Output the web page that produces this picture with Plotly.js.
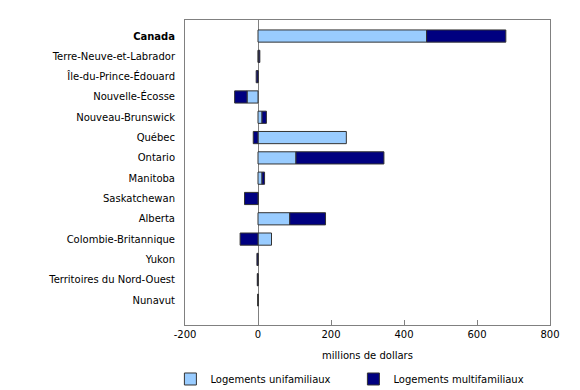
<!DOCTYPE html>
<html><head><meta charset="utf-8">
<script src="https://cdn.plot.ly/plotly-3.0.1.min.js"></script>
<style>html,body{margin:0;padding:0;background:#fff}#c{width:580px;height:390px}</style>
</head><body><div id="c"></div>
<script>
var provinces = ["Canada","Terre-Neuve-et-Labrador","Île-du-Prince-Édouard","Nouvelle-Écosse","Nouveau-Brunswick","Québec","Ontario","Manitoba","Saskatchewan","Alberta","Colombie-Britannique","Yukon","Territoires du Nord-Ouest","Nunavut"];
var provinceLabels = ["<b>Canada</b>","Terre-Neuve-et-Labrador","Île-du-Prince-Édouard","Nouvelle-Écosse","Nouveau-Brunswick","Québec","Ontario","Manitoba","Saskatchewan","Alberta","Colombie-Britannique","Yukon","Territoires du Nord-Ouest","Nunavut"];
var unifamiliaux = [462, 1, 0, -30, 11, 242, 104, 11, 0, 87, 37, 0, 0, 0];
var multifamiliaux = [217, 4, -5, -34, 12, -13, 241, 7, -37, 98, -49, -3, -2, 0];
var xTicks = [-200, 0, 200, 400, 600, 800];
var idx = provinces.map(function(_, i){ return i; });

var line = {color: '#333333', width: 1};
var data = [
  {type:'bar', orientation:'h', name:'Logements unifamiliaux', y: idx, x: unifamiliaux,
   marker:{color:'#99CCFF', line: line}, hoverinfo:'x'},
  {type:'bar', orientation:'h', name:'Logements multifamiliaux', y: idx, x: multifamiliaux,
   marker:{color:'#000080', line: line}, hoverinfo:'x'}
];
var layout = {
  width:580, height:390,
  margin:{l:185, r:30, t:20, b:65, autoexpand:false},
  barmode:'relative', bargap:0.4,
  font:{family:'DejaVu Sans, Verdana, sans-serif', size:10, color:'#000'},
  paper_bgcolor:'#fff', plot_bgcolor:'#fff',
  showlegend:true,
  legend:{orientation:'h', x:-0.04, xanchor:'left', y:-0.177, yanchor:'middle',
          entrywidth:138, font:{size:10}, traceorder:'normal', bgcolor:'rgba(0,0,0,0)'},
  xaxis:{range:[-200,800], tickvals:xTicks, ticktext:xTicks.map(String),
         ticks:'inside', ticklen:5, tickcolor:'#808080',
         showline:true, linecolor:'#808080', linewidth:1, mirror:true,
         showgrid:false, zeroline:true, zerolinecolor:'#808080', zerolinewidth:1,
         title:{text:'millions de dollars', standoff:12, font:{size:10}}},
  yaxis:{range:[14.23,-0.79], tickvals:idx, ticktext:provinceLabels,
         ticks:'', showline:true, linecolor:'#808080', linewidth:1, mirror:true,
         showgrid:false, zeroline:false, ticklabelstandoff:7}
};
Plotly.newPlot('c', data, layout, {displayModeBar:false, staticPlot:true});
</script></body></html>
